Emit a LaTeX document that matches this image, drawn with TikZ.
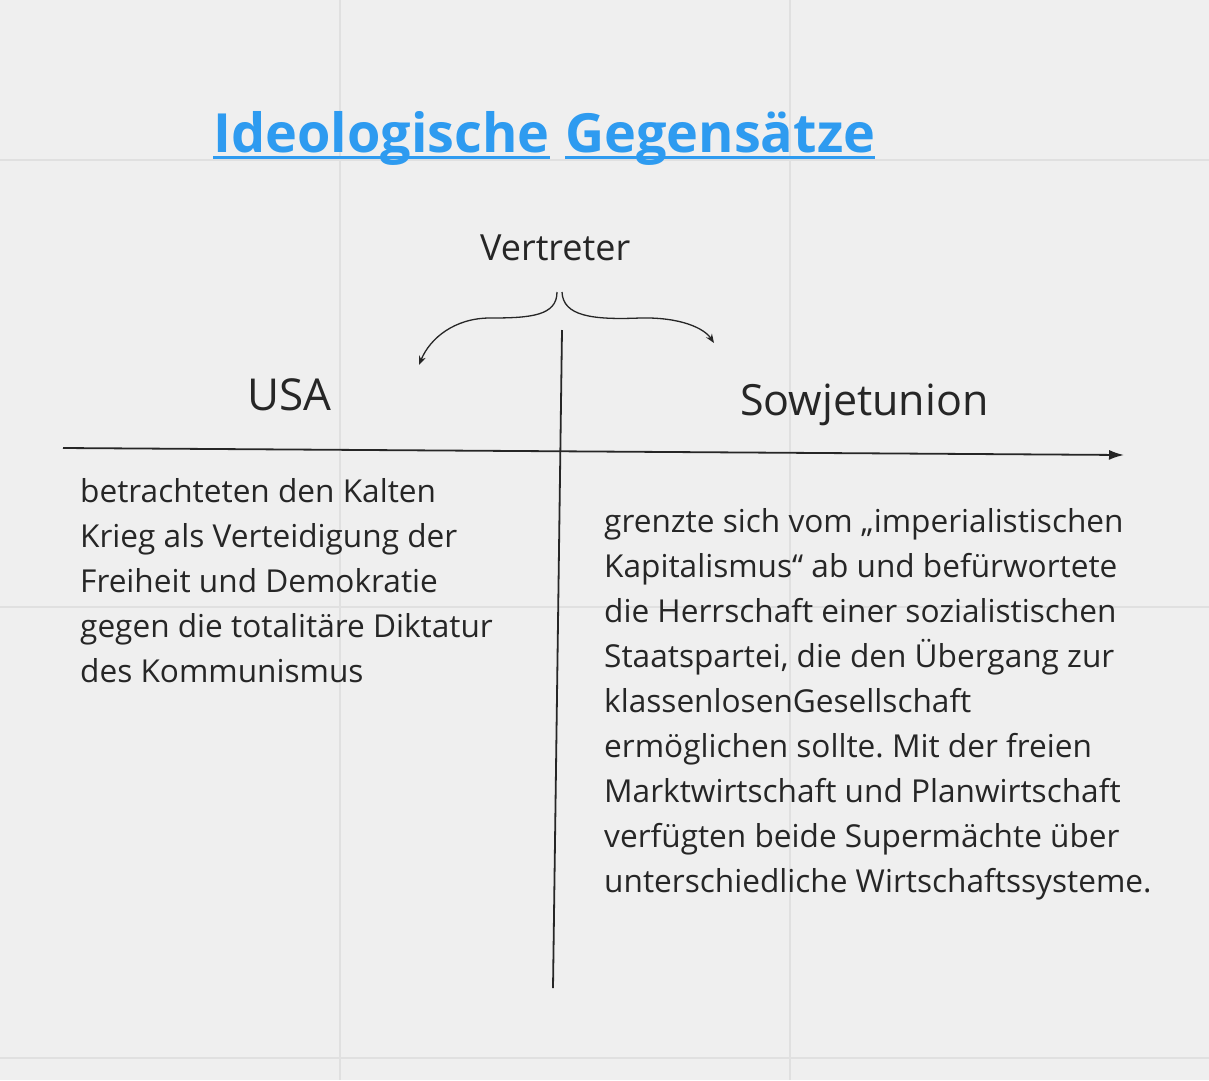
\documentclass[tikz,border=0pt]{standalone}
\usepackage{fontspec}
\setmainfont{Open Sans}
\usetikzlibrary{arrows.meta}
\definecolor{paper}{HTML}{EFEFEF}
\definecolor{gridgray}{HTML}{E0E0E0}
\definecolor{ink}{HTML}{262626}
\definecolor{titleblue}{HTML}{2E9BF0}
\tikzstyle{titleword}=[anchor=base west,inner sep=0pt,text=titleblue,font=\fontsize{54}{62}\selectfont\bfseries]
\tikzstyle{label}=[anchor=base west,inner sep=0pt,text=ink]
\tikzstyle{bodytext}=[anchor=base west,inner sep=0pt,text=ink,align=left,font=\fontsize{31.6}{45}\selectfont\frenchspacing]
\tikzstyle{axis}=[draw=ink,line width=1.8pt]
\tikzstyle{bracearrow}=[draw=ink,line width=1.3pt,-{Stealth[length=9pt,width=7pt]}]

\begin{document}
\begin{tikzpicture}[x=1pt,y=-1pt]
    % background and grid
    \useasboundingbox[fill=paper] (0,0) rectangle (1209,1080);
    \foreach \x in {340,790}
        \draw[gridgray,line width=1.5pt] (\x,0) -- (\x,1080);
    \foreach \y in {160,607,1058}
        \draw[gridgray,line width=1.5pt] (0,\y) -- (1209,\y);

    % title, each word underlined
    \node[titleword] (title1) at (213,152) {Ideologische};
    \node[titleword] (title2) at (565,152) {Gegensätze};
    \foreach \name in {title1,title2}
        \draw[titleblue,line width=3pt] ([yshift=-5pt]\name.base west) -- ([yshift=-5pt]\name.base east);

    % headings
    \node[label,font=\fontsize{36}{42}\selectfont] (vertreter) at (480,260) {Vertreter};
    \node[label,font=\fontsize{44}{52}\selectfont] (usa) at (247,410) {USA};
    \node[label,font=\fontsize{43}{52}\selectfont] (sowjet) at (740,415) {Sowjetunion};

    % the cross
    \coordinate (axisleft) at (63,448);
    \coordinate (axisright) at (1124,455);
    \coordinate (stemtop) at (562,330);
    \coordinate (stembottom) at (553,988);
    \draw[axis,-{Latex[length=15pt,width=10pt]}] (axisleft) -- (axisright);
    \draw[axis] (stemtop) -- (stembottom);

    % brace below Vertreter
    \coordinate (braceleft) at (557,292);
    \coordinate (braceright) at (562,292);
    \coordinate (tousa) at (419,365);
    \coordinate (tosowjet) at (714,343);
    \draw[bracearrow] (braceleft) .. controls (557,316) and (530,318) .. (490,318)
        .. controls (455,318) and (430,338) .. (tousa);
    \draw[bracearrow] (braceright) .. controls (563,316) and (592,320) .. (640,318)
        .. controls (680,317) and (704,328) .. (tosowjet);

    % the two texts (anchored at the baseline of their last line)
    \node[bodytext] (usatext) at (80,682) {betrachteten den Kalten\\
        Krieg als Verteidigung der\\Freiheit und Demokratie\\
        gegen die totalitäre Diktatur\\des Kommunismus};
    \node[bodytext] (sowjettext) at (604,892) {grenzte sich vom „imperialistischen\\
        Kapitalismus“ ab und befürwortete\\die Herrschaft einer sozialistischen\\
        Staatspartei, die den Übergang zur\\klassenlosenGesellschaft\\
        ermöglichen sollte. Mit der freien\\Marktwirtschaft und Planwirtschaft\\
        verfügten beide Supermächte über\\unterschiedliche Wirtschaftssysteme.};
\end{tikzpicture}
\end{document}
